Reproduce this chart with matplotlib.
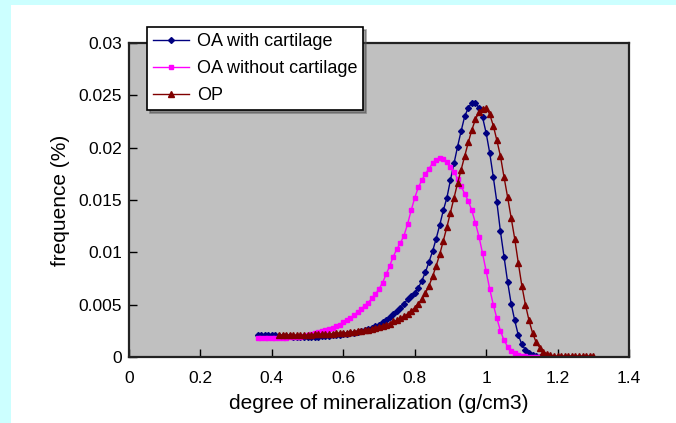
import numpy as np
import matplotlib
matplotlib.use("Agg")
import matplotlib.pyplot as plt
from matplotlib.patches import Rectangle

plt.rcParams["font.family"] = ["Liberation Sans", "DejaVu Sans"]

# OA with cartilage
x_oa_cart = [0.36, 0.37, 0.38, 0.39, 0.40, 0.41, 0.42, 0.43, 0.44, 0.45,
             0.46, 0.47, 0.48, 0.49, 0.50, 0.51, 0.52, 0.53, 0.54, 0.55,
             0.56, 0.57, 0.58, 0.59, 0.60, 0.61, 0.62, 0.63, 0.64, 0.65,
             0.66, 0.67, 0.68, 0.69, 0.70, 0.71, 0.72, 0.73, 0.74, 0.75,
             0.76, 0.77, 0.78, 0.79, 0.80, 0.81, 0.82, 0.83, 0.84, 0.85,
             0.86, 0.87, 0.88, 0.89, 0.90, 0.91, 0.92, 0.93, 0.94, 0.95,
             0.96, 0.97, 0.98, 0.99, 1.00, 1.01, 1.02, 1.03, 1.04, 1.05,
             1.06, 1.07, 1.08, 1.09, 1.10, 1.11, 1.12, 1.13, 1.14, 1.15]
y_oa_cart = [0.0021, 0.0021, 0.0021, 0.0021, 0.0021, 0.0021, 0.0020, 0.0020, 0.0020, 0.0020,
             0.0019, 0.0019, 0.0019, 0.0019, 0.0019, 0.0019, 0.0019, 0.0019, 0.0020, 0.0020,
             0.0020, 0.0021, 0.0021, 0.0021, 0.0022, 0.0022, 0.0023, 0.0023, 0.0024, 0.0025,
             0.0026, 0.0027, 0.0028, 0.0030, 0.0031, 0.0033, 0.0035, 0.0038, 0.0041, 0.0044,
             0.0047, 0.0051, 0.0055, 0.0058, 0.0061, 0.0066, 0.0073, 0.0081, 0.0091, 0.0101,
             0.0113, 0.0126, 0.0140, 0.0152, 0.0169, 0.0185, 0.0201, 0.0216, 0.0230, 0.0238,
             0.0243, 0.0243, 0.0238, 0.0229, 0.0214, 0.0195, 0.0172, 0.0148, 0.0120, 0.0096,
             0.0072, 0.0051, 0.0035, 0.0021, 0.0012, 0.0007, 0.0004, 0.0002, 0.0001, 0.0000]

# OA without cartilage
x_oa_nocart = [0.36, 0.37, 0.38, 0.39, 0.40, 0.41, 0.42, 0.43, 0.44, 0.45,
               0.46, 0.47, 0.48, 0.49, 0.50, 0.51, 0.52, 0.53, 0.54, 0.55,
               0.56, 0.57, 0.58, 0.59, 0.60, 0.61, 0.62, 0.63, 0.64, 0.65,
               0.66, 0.67, 0.68, 0.69, 0.70, 0.71, 0.72, 0.73, 0.74, 0.75,
               0.76, 0.77, 0.78, 0.79, 0.80, 0.81, 0.82, 0.83, 0.84, 0.85,
               0.86, 0.87, 0.88, 0.89, 0.90, 0.91, 0.92, 0.93, 0.94, 0.95,
               0.96, 0.97, 0.98, 0.99, 1.00, 1.01, 1.02, 1.03, 1.04, 1.05,
               1.06, 1.07, 1.08, 1.09, 1.10, 1.11, 1.12, 1.13, 1.14, 1.15, 1.16]
y_oa_nocart = [0.0018, 0.0018, 0.0018, 0.0018, 0.0018, 0.0018, 0.0018, 0.0018, 0.0018, 0.0019,
               0.0019, 0.0019, 0.0019, 0.0020, 0.0021, 0.0022, 0.0023, 0.0024, 0.0025, 0.0026,
               0.0027, 0.0028, 0.0030, 0.0031, 0.0033, 0.0035, 0.0037, 0.0040, 0.0043, 0.0046,
               0.0049, 0.0052, 0.0056, 0.0060, 0.0065, 0.0071, 0.0079, 0.0087, 0.0096, 0.0103,
               0.0109, 0.0116, 0.0127, 0.0140, 0.0152, 0.0162, 0.0169, 0.0175, 0.0180, 0.0185,
               0.0188, 0.0190, 0.0189, 0.0186, 0.0182, 0.0177, 0.0170, 0.0163, 0.0156, 0.0149,
               0.0140, 0.0128, 0.0115, 0.0099, 0.0082, 0.0065, 0.0050, 0.0037, 0.0025, 0.0016,
               0.0010, 0.0006, 0.0004, 0.0002, 0.0001, 0.0001, 0.0000, 0.0000, 0.0000, 0.0000, 0.0000]

# OP
x_op = [0.42, 0.43, 0.44, 0.45, 0.46, 0.47, 0.48, 0.49, 0.50, 0.51,
        0.52, 0.53, 0.54, 0.55, 0.56, 0.57, 0.58, 0.59, 0.60, 0.61,
        0.62, 0.63, 0.64, 0.65, 0.66, 0.67, 0.68, 0.69, 0.70, 0.71,
        0.72, 0.73, 0.74, 0.75, 0.76, 0.77, 0.78, 0.79, 0.80, 0.81,
        0.82, 0.83, 0.84, 0.85, 0.86, 0.87, 0.88, 0.89, 0.90, 0.91,
        0.92, 0.93, 0.94, 0.95, 0.96, 0.97, 0.98, 0.99, 1.00, 1.01,
        1.02, 1.03, 1.04, 1.05, 1.06, 1.07, 1.08, 1.09, 1.10, 1.11,
        1.12, 1.13, 1.14, 1.15, 1.16, 1.17, 1.18, 1.19, 1.20, 1.21,
        1.22, 1.23, 1.24, 1.25, 1.26, 1.27, 1.28, 1.29, 1.30]
y_op = [0.0021, 0.0021, 0.0021, 0.0021, 0.0021, 0.0021, 0.0021, 0.0021, 0.0021, 0.0021,
        0.0022, 0.0022, 0.0022, 0.0022, 0.0022, 0.0022, 0.0023, 0.0023, 0.0023, 0.0023,
        0.0024, 0.0024, 0.0025, 0.0025, 0.0026, 0.0026, 0.0027, 0.0028, 0.0029, 0.0030,
        0.0031, 0.0032, 0.0034, 0.0035, 0.0037, 0.0039, 0.0041, 0.0044, 0.0047, 0.0051,
        0.0055, 0.0061, 0.0068, 0.0077, 0.0087, 0.0098, 0.0111, 0.0124, 0.0138, 0.0152,
        0.0166, 0.0179, 0.0192, 0.0205, 0.0217, 0.0227, 0.0234, 0.0237, 0.0238, 0.0232,
        0.0221, 0.0207, 0.0192, 0.0172, 0.0153, 0.0133, 0.0113, 0.0090, 0.0068, 0.0050,
        0.0035, 0.0023, 0.0014, 0.0009, 0.0005, 0.0003, 0.0002, 0.0001, 0.0001, 0.0001,
        0.0001, 0.0001, 0.0001, 0.0001, 0.0001, 0.0001, 0.0001, 0.0001, 0.0001]

fig = plt.figure(figsize=(6.76, 4.23), dpi=100, facecolor="#ccffff")
fig.patches.append(Rectangle((11 / 676, 0), 1 - 11 / 676, 1 - 5 / 423,
                             transform=fig.transFigure, facecolor="white",
                             edgecolor="none", zorder=-10))

ax = fig.add_axes([129 / 676, 1 - 357 / 423, 500 / 676, 314 / 423])
ax.set_facecolor("#c0c0c0")

ax.plot(x_oa_cart, y_oa_cart, color="#000080", marker="D", markersize=3,
        linewidth=1, label="OA with cartilage")
ax.plot(x_oa_nocart, y_oa_nocart, color="#ff00ff", marker="s", markersize=3.4,
        linewidth=1, label="OA without cartilage")
ax.plot(x_op, y_op, color="#800000", marker="^", markersize=3.8,
        linewidth=1, label="OP")

ax.set_xlim(0, 1.4)
ax.set_ylim(0, 0.03)
ax.set_xticks([0, 0.2, 0.4, 0.6, 0.8, 1, 1.2, 1.4])
ax.set_xticklabels(["0", "0.2", "0.4", "0.6", "0.8", "1", "1.2", "1.4"])
ax.set_yticks([0, 0.005, 0.01, 0.015, 0.02, 0.025, 0.03])
ax.set_yticklabels(["0", "0.005", "0.01", "0.015", "0.02", "0.025", "0.03"])
ax.tick_params(direction="in", length=6, width=1, labelsize=12.5)
ax.tick_params(axis="x", pad=10)
ax.tick_params(axis="y", pad=5)

for s in ax.spines.values():
    s.set_linewidth(1.6)
    s.set_color("#222222")

ax.set_xlabel("degree of mineralization (g/cm3)", fontsize=15, labelpad=6)
ax.set_ylabel("frequence (%)", fontsize=15, labelpad=6)

leg = ax.legend(loc="upper left", bbox_to_anchor=(147 / 676, 1 - 27 / 423),
                bbox_transform=fig.transFigure, fontsize=13, frameon=True,
                fancybox=False, shadow=True, handlelength=2.0,
                borderpad=0.35, labelspacing=0.55, handletextpad=0.4,
                borderaxespad=0)
leg.get_frame().set_edgecolor("black")
leg.get_frame().set_linewidth(1.2)
leg.set_zorder(10)

fig.savefig("out.png", dpi=100, facecolor=fig.get_facecolor())
